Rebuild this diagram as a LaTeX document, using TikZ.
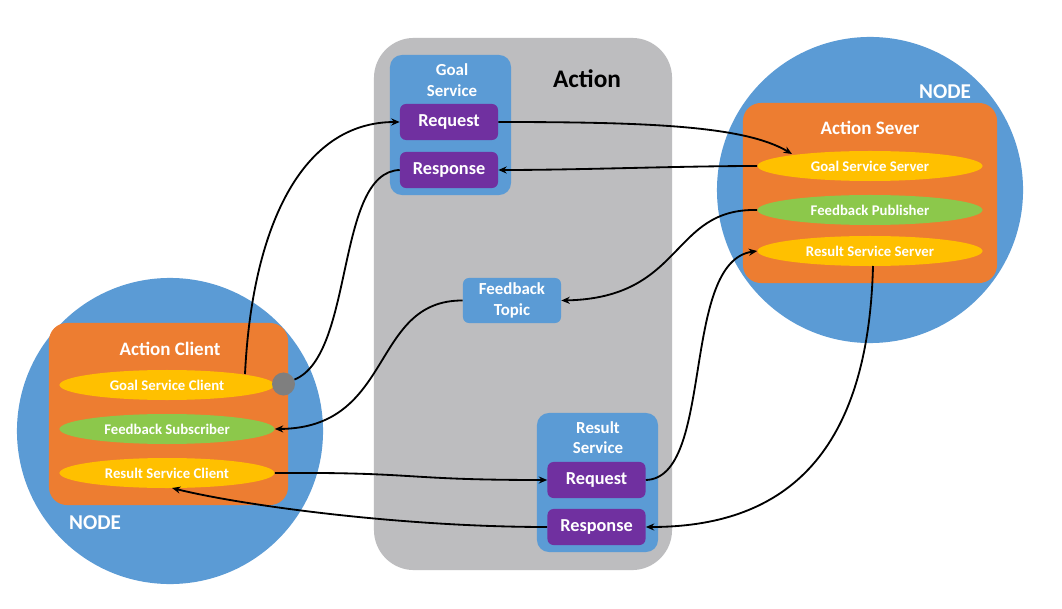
\documentclass[tikz,border=0pt]{standalone}
\usepackage{fontspec}
\setmainfont{Carlito}
\usetikzlibrary{arrows.meta,shapes.geometric,calc}
\definecolor{nodeblue}{HTML}{5B9BD5}
\definecolor{orng}{HTML}{ED7D31}
\definecolor{yell}{HTML}{FFC000}
\definecolor{grn}{HTML}{8CC84B}
\definecolor{purp}{HTML}{7030A0}
\definecolor{actgrey}{HTML}{BDBDBF}
\definecolor{dotgrey}{HTML}{7F7F7F}
\tikzset{
  wtext/.style={text=white,font=\bfseries,inner sep=0pt},
  nodecirc/.style={circle,fill=nodeblue,minimum size=7.65cm,inner sep=0pt},
  orangebox/.style={rectangle,rounded corners=0.45cm,fill=orng,inner sep=0pt},
  ovalbox/.style={ellipse,inner sep=0pt,minimum height=0.75cm,text=white,font=\fontsize{10.5}{12}\selectfont\bfseries},
  bluebox/.style={rectangle,rounded corners=0.3cm,fill=nodeblue,inner sep=0pt},
  purpbox/.style={rectangle,rounded corners=0.15cm,fill=purp,inner sep=0pt,minimum width=2.45cm,minimum height=0.9cm,text=white,font=\fontsize{13}{15}\selectfont\bfseries},
  conn/.style={line width=1.3pt,black},
  arr/.style={conn,-{Stealth[length=6pt,width=5pt]}},
}
\begin{document}
\begin{tikzpicture}[x=0.025cm,y=-0.025cm]
\useasboundingbox (0,0) rectangle (1062,609);
\fill[white] (0,0) rectangle (1062,609);

% Action area
\node[rectangle,rounded corners=1cm,fill=actgrey,minimum width=7.45cm,minimum height=13.3cm,inner sep=0pt] (action) at (523,304) {};
\node[inner sep=0pt,font=\fontsize{18}{20}\selectfont\bfseries] (actlbl) at (587,79) {Action};

% Left node
\node[nodecirc] (ncL) at (170,431) {};
\node[orangebox,minimum width=5.975cm,minimum height=4.55cm] (acbox) at (168.5,414) {};
\node[wtext,font=\fontsize{13.5}{15}\selectfont\bfseries] (aclbl) at (170,349) {Action Client};
\node[ovalbox,fill=yell,minimum width=5.375cm] (gsc) at (167,385) {Goal Service Client};
\node[ovalbox,fill=grn,minimum width=5.375cm] (fs) at (167,429) {Feedback Subscriber};
\node[ovalbox,fill=yell,minimum width=5.375cm] (rsc) at (167,473) {Result Service Client};
\node[wtext,font=\fontsize{15}{17}\selectfont\bfseries] (nodeL) at (95,523) {NODE};
\node[circle,fill=dotgrey,minimum size=0.575cm,inner sep=0pt] (dot) at (283.5,384) {};

% Right node
\node[nodecirc] (ncR) at (870,190) {};
\node[orangebox,minimum width=6.35cm,minimum height=4.5cm] (asbox) at (870,193) {};
\node[wtext,font=\fontsize{13.5}{15}\selectfont\bfseries] (aslbl) at (870,128) {Action Sever};
\node[ovalbox,fill=yell,minimum width=5.625cm] (gss) at (870,166) {Goal Service Server};
\node[ovalbox,fill=grn,minimum width=5.625cm] (fp) at (870,210) {Feedback Publisher};
\node[ovalbox,fill=yell,minimum width=5.625cm] (rss) at (870,251) {Result Service Server};
\node[wtext,font=\fontsize{15}{17}\selectfont\bfseries] (nodeR) at (945,92) {NODE};

% Goal service
\node[bluebox,minimum width=3.025cm,minimum height=3.5cm] (gsbox) at (450.5,125) {};
\node[wtext,font=\fontsize{12}{14.5}\selectfont\bfseries,align=center] (gslbl) at (452,80) {Goal\\Service};
\node[purpbox] (greq) at (449,122) {Request};
\node[purpbox] (gresp) at (449,170) {Response};

% Feedback topic
\node[bluebox,rounded corners=0.15cm,minimum width=2.45cm,minimum height=1.125cm,align=center,text=white,font=\fontsize{12}{15}\selectfont\bfseries] (ft) at (512,300.5) {Feedback\\Topic};

% Result service
\node[bluebox,minimum width=3.025cm,minimum height=3.475cm] (rsbox) at (597.5,482.5) {};
\node[wtext,font=\fontsize{12}{14.5}\selectfont\bfseries,align=center] (rslbl) at (598,437.5) {Result\\Service};
\node[purpbox] (rreq) at (596.5,480) {Request};
\node[purpbox] (rresp) at (596.5,527) {Response};

% Connectors
\draw[arr] ($(gsc.center)+(78,-11)$) .. controls (252,230) and (300,122) .. (greq.west);
\draw[conn] (gresp.west) .. controls (335,172) and (355,355) .. (dot);
\draw[arr] (greq.east) .. controls (650,122) and (745,126) .. ($(gss.center)+(-78,-12)$);
\draw[arr] (gss.west) .. controls (680,166) and (580,170) .. (gresp.east);
\draw[arr] (fp.west) .. controls (670,208) and (685,298) .. (ft.east);
\draw[arr] (ft.west) .. controls (370,300) and (395,428) .. (fs.east);
\draw[arr] (rsc.east) .. controls (420,472) and (400,480) .. (rreq.west);
\draw[arr] (rreq.east) .. controls (715,478) and (680,262) .. (rss.west);
\draw[arr] ($(rss.center)+(3,15)$) .. controls (868,460) and (780,527) .. (rresp.east);
\draw[arr] (rresp.west) .. controls (400,527) and (240,505) .. ($(rsc.center)+(5,15)$);
\end{tikzpicture}
\end{document}
